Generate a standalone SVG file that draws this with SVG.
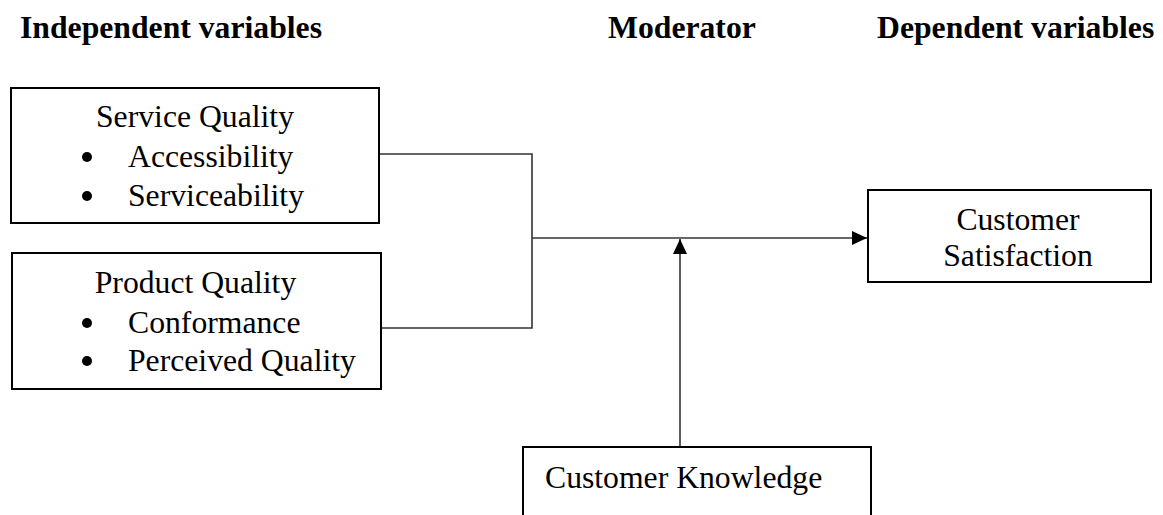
<svg xmlns="http://www.w3.org/2000/svg" width="1163" height="515" viewBox="0 0 1163 515">
<style>
text{font-family:"Liberation Serif","Times New Roman",serif;font-size:31.7px;fill:#000}
.h{font-weight:bold}
.box{fill:#fff;stroke:#000;stroke-width:2}
.c{fill:none;stroke:#333;stroke-width:1.6}
</style>
<defs>
<marker id="ah" markerWidth="16" markerHeight="16" viewBox="0 0 16 16" refX="15" refY="8" orient="auto" markerUnits="userSpaceOnUse">
<path d="M0,1 L15,8 L0,15 Z" fill="#000"/>
</marker>
</defs>
<rect width="1163" height="515" fill="#fff"/>
<g id="headers">
<text class="h" x="20" y="38">Independent variables</text>
<text class="h" x="608" y="38">Moderator</text>
<text class="h" x="877" y="38">Dependent variables</text>
</g>
<g id="connectors">
<polyline class="c" points="379,154 532,154 532,328 381,328"/>
<line class="c" x1="532" y1="238" x2="867" y2="238" marker-end="url(#ah)"/>
<line class="c" x1="680" y1="447" x2="680" y2="239" marker-end="url(#ah)"/>
</g>
<g id="service-quality">
<rect class="box" x="11" y="88" width="368" height="135"/>
<text x="195" y="127" text-anchor="middle">Service Quality</text>
<circle cx="87" cy="157" r="5"/>
<text x="128" y="167">Accessibility</text>
<circle cx="87" cy="196" r="5"/>
<text x="128" y="206">Serviceability</text>
</g>
<g id="product-quality">
<rect class="box" x="12" y="253" width="369" height="136"/>
<text x="195.5" y="293" text-anchor="middle">Product Quality</text>
<circle cx="87" cy="323" r="5"/>
<text x="128" y="333">Conformance</text>
<circle cx="87" cy="361" r="5"/>
<text x="128" y="371">Perceived Quality</text>
</g>
<g id="customer-satisfaction">
<rect class="box" x="868" y="190" width="283" height="92"/>
<text x="1018" y="230" text-anchor="middle">Customer</text>
<text x="1018" y="266" text-anchor="middle">Satisfaction</text>
</g>
<g id="customer-knowledge">
<rect class="box" x="523" y="447" width="348" height="90"/>
<text x="545" y="488">Customer Knowledge</text>
</g>
</svg>
